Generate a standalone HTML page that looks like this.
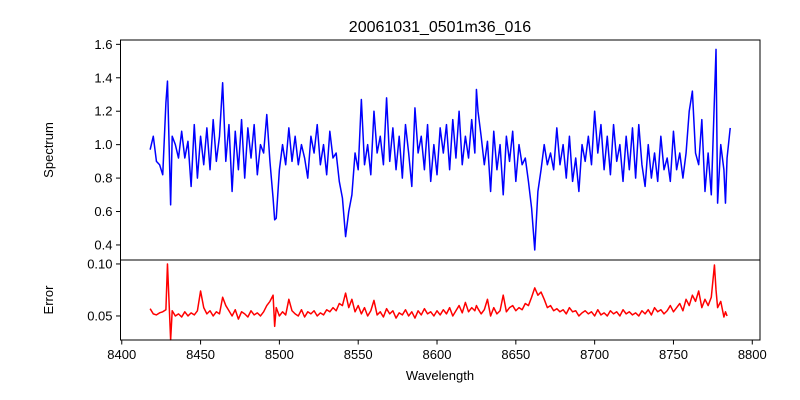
<!DOCTYPE html>
<html><head><meta charset="utf-8"><style>
body{margin:0;background:#fff}
svg{display:block;font-family:"Liberation Sans","DejaVu Sans",sans-serif}
</style></head><body>
<svg id="c" width="800" height="400" viewBox="0 0 800 400">
<text x="440" y="32" font-size="16" text-anchor="middle">20061031_0501m36_016</text>
<text transform="translate(53,150) rotate(-90)" font-size="13" text-anchor="middle">Spectrum</text>
<text transform="translate(53,300) rotate(-90)" font-size="13" text-anchor="middle">Error</text>
<text x="440" y="380" font-size="13" text-anchor="middle">Wavelength</text>
<g id="g"></g>
</svg>
<script>
const waves=[8418,8420,8422,8424,8426,8428,8429,8431,8432,8434,8436,8438,8440,8442,8444,8446,8448,8450,8452,8454,8456,8458,8460,8462,8464,8466,8468,8470,8472,8474,8476,8478,8480,8482,8484,8486,8488,8490,8492,8494,8496,8497,8498,8500,8502,8504,8506,8508,8510,8512,8514,8516,8518,8520,8522,8524,8526,8528,8530,8532,8534,8536,8538,8540,8542,8544,8546,8548,8550,8552,8554,8556,8558,8560,8562,8564,8566,8568,8570,8572,8574,8576,8578,8580,8582,8584,8586,8588,8590,8592,8594,8596,8598,8600,8602,8604,8606,8608,8610,8612,8614,8616,8618,8620,8622,8624,8625,8626,8628,8630,8632,8634,8636,8638,8640,8642,8644,8646,8648,8650,8652,8654,8656,8658,8660,8662,8664,8666,8668,8670,8672,8674,8676,8678,8680,8682,8684,8686,8688,8690,8692,8694,8696,8698,8700,8702,8704,8706,8708,8710,8712,8714,8716,8718,8720,8722,8724,8726,8728,8730,8732,8734,8736,8738,8740,8742,8744,8746,8748,8750,8752,8754,8756,8758,8760,8762,8764,8766,8768,8770,8772,8774,8776,8777,8778,8780,8782,8783,8784,8786];
const flux=[.97,1.05,.90,.88,.82,1.25,1.38,.64,1.05,1.0,.92,1.08,.92,1.02,.75,1.12,.80,1.05,.88,1.10,.85,1.15,.90,1.05,1.37,.90,1.12,.72,1.08,.85,1.15,.80,1.10,.92,1.12,.82,1.0,.95,1.18,.90,.68,.55,.56,.85,1.0,.88,1.1,.90,1.05,.88,1.0,.92,.80,1.05,.95,1.12,.88,1.0,.82,1.08,.92,.95,.78,.68,.45,.60,.70,.95,.85,1.27,.88,1.0,.82,1.2,.95,1.05,.88,1.28,.90,1.10,.85,1.05,.80,1.12,.95,.75,1.22,.95,1.05,.85,1.12,.78,1.0,.82,1.1,.95,1.12,.85,1.15,.92,1.2,.88,1.05,.92,1.15,.95,1.33,1.2,1.05,.88,1.02,.72,1.08,.85,1.0,.70,1.05,.90,1.08,.78,1.0,.88,.92,.78,.62,.37,.72,.85,1.0,.88,.95,.85,1.1,.88,1.0,.80,1.05,.78,.92,.72,1.0,.90,1.05,.88,1.2,.95,1.12,.85,1.05,.82,1.12,.90,1.0,.78,1.05,.85,1.1,.80,1.12,.88,.75,1.0,.80,.95,.78,1.05,.85,.92,.78,1.08,.85,.95,.80,.95,1.2,1.32,.95,.88,1.15,.72,.95,.70,1.28,1.57,.65,1.0,.85,.65,.92,1.1];
const errs=[.057,.052,.051,.053,.054,.056,.100,.027,.055,.050,.052,.049,.054,.050,.053,.051,.055,.074,.058,.052,.055,.050,.054,.052,.068,.060,.055,.050,.056,.047,.054,.052,.049,.055,.051,.053,.050,.054,.060,.064,.070,.040,.058,.050,.054,.051,.066,.055,.052,.050,.056,.049,.054,.052,.055,.050,.053,.051,.056,.054,.058,.055,.062,.060,.072,.058,.066,.054,.060,.052,.058,.050,.055,.065,.051,.054,.049,.057,.052,.055,.048,.053,.051,.056,.050,.054,.048,.055,.051,.057,.052,.054,.050,.055,.051,.056,.052,.058,.050,.055,.060,.053,.063,.054,.058,.055,.060,.057,.052,.056,.066,.050,.058,.052,.055,.070,.054,.058,.060,.055,.058,.056,.062,.060,.068,.077,.070,.073,.066,.058,.060,.055,.057,.054,.056,.052,.058,.054,.055,.050,.053,.055,.052,.054,.050,.056,.051,.053,.050,.055,.052,.054,.050,.056,.052,.054,.051,.053,.050,.055,.052,.056,.051,.058,.054,.056,.052,.055,.060,.054,.058,.062,.055,.066,.060,.070,.064,.074,.058,.066,.060,.068,.099,.075,.058,.064,.049,.054,.050];
const xTicks=[8400,8450,8500,8550,8600,8650,8700,8750,8800];
const fTicks=[0.4,0.6,0.8,1.0,1.2,1.4,1.6];
const eTicks=[0.05,0.10];
const X0=120.5,X1=760,W0=8399.2,W1=8804.9;
const x=w=>X0+(w-W0)/(W1-W0)*(X1-X0);
const yF=v=>260-(v-0.31)/(1.626-0.31)*220;
const yE=v=>340-(v-0.0269)/(0.1038-0.0269)*80;
const NS="http://www.w3.org/2000/svg",g=document.getElementById('g');
function mk(t,a){const e=document.createElementNS(NS,t);for(const k in a)e.setAttribute(k,a[k]);g.appendChild(e);return e;}
let e;
e=mk('polyline',{points:waves.map((w,i)=>x(w).toFixed(2)+','+yF(flux[i]).toFixed(2)).join(' '),fill:'none',stroke:'#0000ff','stroke-width':1.5,'stroke-linejoin':'round'});


e=mk('polyline',{points:waves.map((w,i)=>x(w).toFixed(2)+','+yE(errs[i]).toFixed(2)).join(' '),fill:'none',stroke:'#ff0000','stroke-width':1.5,'stroke-linejoin':'round'});


e=mk('rect',{x:X0,y:40,width:X1-X0,height:220,fill:'none',stroke:'#000','stroke-width':1});


e=mk('rect',{x:X0,y:260,width:X1-X0,height:80,fill:'none',stroke:'#000','stroke-width':1});


xTicks.forEach(t=>{const px=x(t);
 e=mk('line',{x1:px,x2:px,y1:340,y2:344.5,stroke:'#000'});
 
 
 e=mk('text',{x:px,y:359,'font-size':13,'text-anchor':'middle'});e.textContent=t;
 
 });
fTicks.forEach(t=>{const py=yF(t);
 e=mk('line',{x1:X0-4.5,x2:X0,y1:py,y2:py,stroke:'#000'});
 
 
 e=mk('text',{x:X0-8,y:py+4.5,'font-size':13,'text-anchor':'end'});e.textContent=t.toFixed(1);
 
 });
eTicks.forEach(t=>{const py=yE(t);
 e=mk('line',{x1:X0-4.5,x2:X0,y1:py,y2:py,stroke:'#000'});
 
 
 e=mk('text',{x:X0-8,y:py+4.5,'font-size':13,'text-anchor':'end'});e.textContent=t.toFixed(2);
 
 });
</script>
</body></html>
